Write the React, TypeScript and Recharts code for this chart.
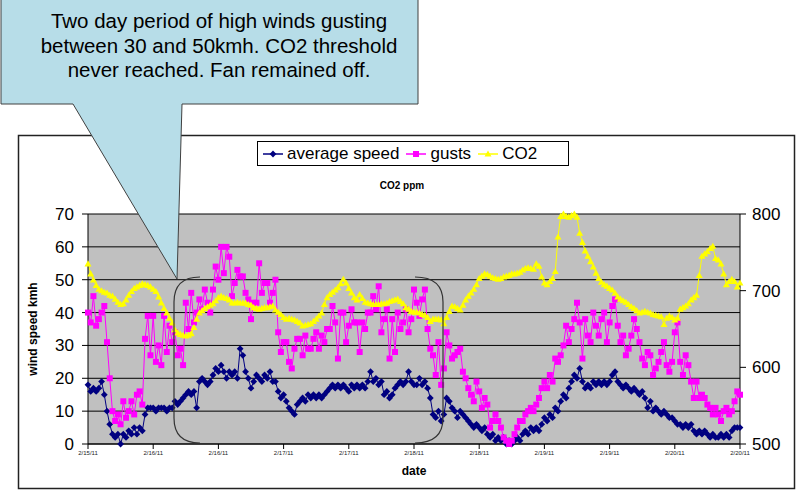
import { LineChart, Line, XAxis, YAxis, CartesianGrid, Legend } from 'recharts';

// tick labels every 12 hours
const dateLabels = ['2/15/11', '2/16/11', '2/16/11', '2/17/11', '2/17/11', '2/18/11', '2/18/11', '2/19/11', '2/19/11', '2/20/11', '2/20/11'];

// half-hourly readings, kmh
const avgSpeed = [
  18, 16, 17, 16, 17, 19, 15, 10, 6, 3, 2, 3, 0, 3, 2, 4, 3, 5, 3, 5,
  4, 9, 11, 11, 11, 10, 11, 11, 11, 10, 11, 11, 13, 12, 13, 14, 15, 16, 15, 16,
  11, 19, 20, 19, 18, 19, 21, 23, 22, 24, 22, 20, 22, 21, 22, 20, 29, 27, 22, 20,
  17, 19, 21, 20, 19, 21, 20, 22, 19, 19, 16, 14, 15, 13, 11, 10, 9, 12, 13, 14,
  13, 15, 14, 15, 14, 15, 14, 15, 16, 17, 18, 17, 18, 17, 18, 17, 16, 18, 17, 18,
  17, 18, 17, 19, 22, 19, 20, 18, 19, 15, 16, 14, 15, 17, 18, 19, 18, 19, 22, 19,
  18, 18, 20, 18, 19, 17, 14, 9, 8, 10, 7, 9, 14, 13, 11, 10, 8, 10, 9, 8,
  7, 6, 5, 6, 5, 4, 5, 3, 2, 3, 1, 2, 1, 2, 0, 1, 0, 1, 2, 1,
  3, 4, 3, 5, 4, 5, 4, 6, 8, 7, 9, 8, 11, 10, 13, 15, 14, 17, 19, 21,
  20, 23, 19, 17, 18, 17, 19, 18, 19, 18, 19, 18, 19, 21, 22, 19, 18, 17, 18, 17,
  16, 17, 16, 15, 16, 14, 11, 13, 10, 11, 10, 9, 10, 9, 8, 8, 7, 6, 6, 5,
  6, 5, 6, 4, 3, 4, 3, 4, 3, 2, 3, 2, 2, 3, 2, 3, 2, 4, 5, 5, 5,
];

const gusts = [
  40, 37, 45, 36, 38, 40, 42, 31, 20, 10, 7, 9, 6, 13, 8, 10, 13, 9, 15, 16,
  12, 32, 39, 27, 39, 25, 30, 24, 39, 28, 36, 31, 34, 27, 29, 24, 43, 35, 46, 37,
  40, 44, 41, 47, 43, 40, 47, 54, 50, 60, 52, 60, 57, 45, 49, 53, 51, 51, 46, 44,
  38, 43, 43, 55, 46, 49, 49, 43, 46, 50, 34, 28, 31, 31, 25, 23, 29, 32, 32, 27,
  33, 29, 29, 32, 34, 29, 33, 31, 35, 35, 42, 37, 26, 40, 40, 31, 36, 41, 37, 37,
  28, 37, 35, 40, 40, 45, 41, 48, 34, 38, 41, 26, 38, 28, 40, 35, 37, 41, 34, 38,
  47, 43, 39, 44, 47, 35, 29, 27, 21, 31, 18, 23, 34, 30, 26, 27, 28, 29, 22, 20,
  17, 15, 13, 19, 16, 11, 14, 12, 5, 7, 9, 7, 5, 2, 1, 0, 1, 3, 5, 7,
  7, 9, 10, 11, 10, 12, 14, 17, 19, 17, 21, 19, 26, 25, 27, 30, 36, 31, 35, 38,
  43, 37, 26, 38, 33, 31, 40, 36, 33, 38, 40, 31, 37, 42, 44, 36, 31, 33, 27, 29,
  33, 38, 35, 31, 26, 24, 28, 27, 21, 23, 25, 28, 31, 24, 22, 25, 34, 37, 25, 21,
  27, 24, 19, 14, 19, 14, 15, 14, 12, 11, 9, 11, 9, 7, 10, 11, 9, 10, 13, 16, 15,
];

// ppm
const co2 = [
  735, 722, 714, 707, 702, 700, 698, 697, 694, 693, 689, 685, 682, 683, 688, 694, 699, 703, 705, 707,
  709, 708, 707, 705, 702, 699, 692, 684, 677, 671, 664, 658, 649, 645, 643, 642, 641, 642, 644, 652,
  663, 671, 674, 677, 679, 681, 683, 687, 691, 693, 691, 690, 688, 684, 684, 685, 684, 684, 684, 682,
  681, 678, 677, 676, 677, 678, 678, 679, 680, 675, 672, 669, 665, 663, 664, 663, 662, 660, 658, 654,
  655, 656, 657, 660, 663, 667, 671, 682, 691, 695, 698, 701, 704, 709, 715, 710, 703, 697, 691, 688,
  695, 690, 685, 684, 683, 682, 682, 682, 683, 683, 684, 686, 687, 688, 689, 686, 683, 678, 676, 673,
  672, 672, 671, 669, 668, 665, 660, 663, 663, 663, 662, 657, 665, 673, 680, 679, 677, 675, 681, 688,
  693, 697, 702, 708, 716, 719, 722, 721, 719, 717, 716, 715, 716, 718, 719, 720, 722, 722, 723, 724,
  727, 729, 730, 729, 728, 735, 732, 718, 710, 708, 712, 716, 725, 770, 797, 800, 797, 796, 798, 800,
  796, 775, 763, 752, 745, 738, 731, 723, 716, 711, 708, 706, 703, 701, 697, 692, 689, 687, 685, 682,
  679, 677, 674, 671, 672, 673, 672, 671, 669, 668, 667, 666, 656, 664, 667, 665, 662, 664, 676, 678,
  680, 683, 688, 691, 694, 720, 745, 748, 751, 755, 758, 742, 740, 735, 722, 708, 712, 715, 712, 705, 710,
];

const data = avgSpeed.map((v, i) => ({ hour: i / 2, avg: v, gust: gusts[i], co2: co2[i] }));
const hourTicks = dateLabels.map((_, i) => i * 12);

const FONT = '"Liberation Sans", Arial, sans-serif';
const NAVY = '#000080';
const PINK = '#FF00FF';
const YELLOW = '#FFFF00';

const diamond = (cx: number, cy: number) => `M${cx},${cy - 3.4}L${cx + 3.4},${cy}L${cx},${cy + 3.4}L${cx - 3.4},${cy}Z`;
const square = (cx: number, cy: number) => `M${cx - 3},${cy - 3}h6v6h-6Z`;
const triangle = (cx: number, cy: number) => `M${cx},${cy - 3.5}L${cx + 3.5},${cy + 2.6}L${cx - 3.5},${cy + 2.6}Z`;

const makeDot = (shape: (x: number, y: number) => string, color: string, prefix: string) => (p: any) => {
  if (p.cx == null || p.cy == null) return <g key={`${prefix}${p.index}`} />;
  return <path key={`${prefix}${p.index}`} d={shape(p.cx, p.cy)} fill={color} stroke="none" />;
};

function LegendBox() {
  const items = [
    { label: 'average speed', color: NAVY, shape: diamond },
    { label: 'gusts', color: PINK, shape: square },
    { label: 'CO2', color: YELLOW, shape: triangle },
  ];
  return (
    <div style={{ display: 'flex', alignItems: 'center', height: 25, width: 312, border: '1px solid #000', background: '#fff', fontFamily: FONT, fontSize: 17, padding: '0 4px', boxSizing: 'border-box' }}>
      {items.map((it) => (
        <div key={it.label} style={{ display: 'flex', alignItems: 'center', marginRight: 6 }}>
          <svg width={22} height={10}>
            <line x1={1} y1={5} x2={21} y2={5} stroke={it.color} strokeWidth={1.5} />
            <path d={it.shape(11, 5)} fill={it.color} />
          </svg>
          <span style={{ marginLeft: 3 }}>{it.label}</span>
        </div>
      ))}
    </div>
  );
}

export default function App() {
  return (
    <div style={{ position: 'absolute', left: 0, top: 0, width: 800, height: 494, background: '#fff', fontFamily: FONT, overflow: 'hidden' }}>
      <div style={{ position: 'absolute', left: 0, top: 180, width: 804, textAlign: 'center', fontSize: 10, fontWeight: 'bold' }}>CO2 ppm</div>
      <div style={{ position: 'absolute', left: 0, top: 0 }}>
        <LineChart width={800} height={494} data={data} margin={{ top: 214, right: 0, bottom: 20, left: 28 }}>
          <CartesianGrid yAxisId="left" vertical={false} fill="#C0C0C0" stroke="#000" strokeWidth={1} />
          <XAxis
            dataKey="hour"
            type="number"
            domain={[0, 120]}
            ticks={hourTicks}
            tickFormatter={(v: number) => dateLabels[v / 12]}
            interval={0}
            height={30}
            stroke="#000"
            tickSize={5}
            tick={{ fontSize: 6, fill: '#222', fontFamily: FONT }}
            label={{ value: 'date', position: 'insideBottom', offset: -1, fontSize: 12, fontWeight: 'bold', fill: '#000', fontFamily: FONT }}
          />
          <YAxis
            yAxisId="left"
            domain={[0, 70]}
            ticks={[0, 10, 20, 30, 40, 50, 60, 70]}
            width={60}
            stroke="#000"
            tickSize={6}
            tickMargin={8}
            tick={{ fontSize: 17, fill: '#000', fontFamily: FONT }}
            label={{ value: 'wind speed kmh', angle: -90, position: 'insideLeft', offset: 2, dx: 3, fontSize: 12, fontWeight: 'bold', fill: '#000', fontFamily: FONT, style: { textAnchor: 'middle' } }}
          />
          <YAxis
            yAxisId="right"
            orientation="right"
            domain={[500, 800]}
            ticks={[500, 600, 700, 800]}
            width={60}
            stroke="#000"
            tickSize={6}
            tickMargin={6}
            tick={{ fontSize: 17, fill: '#000', fontFamily: FONT }}
          />
          <Legend
            layout="horizontal"
            verticalAlign="middle"
            align="center"
            wrapperStyle={{ position: 'absolute', left: 257, top: 141, width: 312, height: 25 }}
            content={() => <LegendBox />}
          />
          <Line yAxisId="left" dataKey="avg" name="average speed" stroke={NAVY} strokeWidth={1} dot={makeDot(diamond, NAVY, 'a')} activeDot={false} isAnimationActive={false} />
          <Line yAxisId="left" dataKey="gust" name="gusts" stroke={PINK} strokeWidth={1} dot={makeDot(square, PINK, 'g')} activeDot={false} isAnimationActive={false} />
          <Line yAxisId="right" dataKey="co2" name="CO2" stroke={YELLOW} strokeWidth={1} dot={makeDot(triangle, YELLOW, 'c')} activeDot={false} isAnimationActive={false} />
        </LineChart>
      </div>
      <svg width={800} height={494} style={{ position: 'absolute', left: 0, top: 0, pointerEvents: 'none' }}>
        <rect x={18.5} y={135.5} width={776} height={353} fill="none" stroke="#222" strokeWidth={1.5} />
        <path d="M200,277 Q174,277 174,302 L174,418 Q174,443 200,443" fill="none" stroke="#333" strokeWidth={1.2} />
        <path d="M415,277 Q443,277 443,302 L443,418 Q443,443 415,443" fill="none" stroke="#333" strokeWidth={1.2} />
        <path d="M1,-2 H418 V104 H182 L177,279 L73,104 H1 Z" fill="#B7DDE8" stroke="#404040" strokeWidth={1} />
        <g fontFamily={FONT} fontSize={20.5} fill="#000" textAnchor="middle">
          <text x={219} y={28}>Two day period of high winds gusting</text>
          <text x={219} y={53}>between 30 and 50kmh. CO2 threshold</text>
          <text x={219} y={77}>never reached. Fan remained off.</text>
        </g>
      </svg>
    </div>
  );
}
